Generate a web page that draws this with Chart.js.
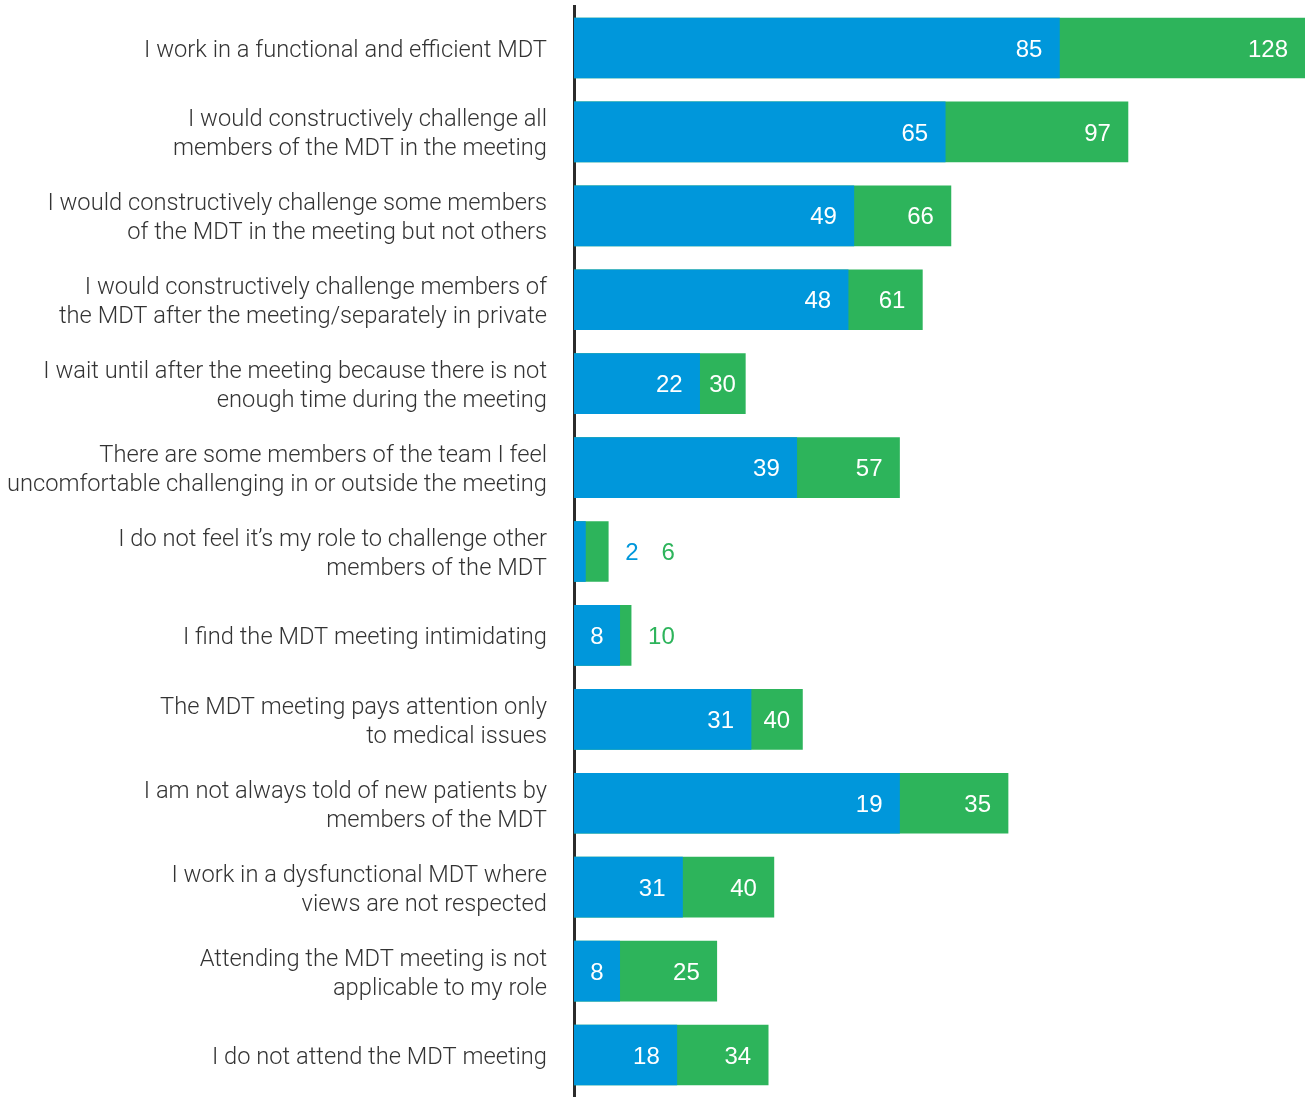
<!DOCTYPE html>
<html>
<head>
<meta charset="utf-8">
<script src="https://cdn.jsdelivr.net/npm/chart.js@4.4.1/dist/chart.umd.min.js"></script>
<style>
  html, body { margin: 0; padding: 0; background: #fff; }
  #wrap { width: 1308px; height: 1097px; position: relative; }
</style>
</head>
<body>
<div id="wrap"><canvas id="mdtChart"></canvas></div>
<script>
const categories = [
    ['I work in a functional and efficient MDT'],
    ['I would constructively challenge all', 'members of the MDT in the meeting'],
    ['I would constructively challenge some members', 'of the MDT in the meeting but not others'],
    ['I would constructively challenge members of', 'the MDT after the meeting/separately in private'],
    ['I wait until after the meeting because there is not', 'enough time during the meeting'],
    ['There are some members of the team I feel', 'uncomfortable challenging in or outside the meeting'],
    ['I do not feel it\u2019s my role to challenge other', 'members of the MDT'],
    ['I find the MDT meeting intimidating'],
    ['The MDT meeting pays attention only', 'to medical issues'],
    ['I am not always told of new patients by', 'members of the MDT'],
    ['I work in a dysfunctional MDT where', 'views are not respected'],
    ['Attending the MDT meeting is not', 'applicable to my role'],
    ['I do not attend the MDT meeting']
];

// bar lengths as drawn
const blueBars = [85, 65, 49, 48, 22, 39, 2, 8, 31, 57, 19, 8, 18];
const greenBars = [128, 97, 66, 61, 30, 57, 6, 10, 40, 76, 35, 25, 34];

// numbers printed on the bars
const blueLabels = ['85', '65', '49', '48', '22', '39', '2', '8', '31', '19', '31', '8', '18'];
const greenLabels = ['128', '97', '66', '61', '30', '57', '6', '10', '40', '35', '40', '25', '34'];

const BLUE = '#0097db';
const GREEN = '#2db45b';

const valueLabels = {
    id: 'valueLabels',
    afterDatasetsDraw(chart) {
        const ctx = chart.ctx;
        const blueMeta = chart.getDatasetMeta(0);
        const greenMeta = chart.getDatasetMeta(1);
        const pad = 17;
        ctx.save();
        ctx.font = '400 24px "Liberation Sans", Arial, sans-serif';
        ctx.textBaseline = 'middle';
        blueMeta.data.forEach((bar, i) => {
            const green = greenMeta.data[i];
            const x0 = bar.base;
            const xb = bar.x;
            const xg = green.x;
            const y = bar.y + 2;
            let cursor = xg + pad;
            const place = (text, left, right, color) => {
                const w = ctx.measureText(text).width;
                const seg = right - left;
                if (seg >= w + 2 * pad) {
                    ctx.fillStyle = '#fff';
                    ctx.textAlign = 'right';
                    ctx.fillText(text, right - pad, y);
                } else if (seg >= w + 16) {
                    ctx.fillStyle = '#fff';
                    ctx.textAlign = 'center';
                    ctx.fillText(text, (left + right) / 2, y);
                } else {
                    // too narrow: print it after the bar in its own colour
                    ctx.fillStyle = color;
                    ctx.textAlign = 'left';
                    ctx.fillText(text, cursor, y);
                    cursor += w + 23;
                }
            };
            place(blueLabels[i], x0, xb, BLUE);
            place(greenLabels[i], xb, xg, GREEN);
        });
        ctx.restore();
    }
};

new Chart(document.getElementById('mdtChart'), {
    type: 'bar',
    data: {
        labels: categories,
        datasets: [{
            data: blueBars,
            backgroundColor: BLUE,
            grouped: false,
            barThickness: 60
        }, {
            data: greenBars,
            backgroundColor: GREEN,
            grouped: false,
            barThickness: 60
        }]
    },
    options: {
        indexAxis: 'y',
        responsive: true,
        maintainAspectRatio: false,
        animation: false,
        layout: { padding: { top: 6, right: 3, left: 0, bottom: 0 } },
        plugins: { legend: { display: false }, tooltip: { enabled: false } },
        scales: {
            x: { display: false, min: 0, max: 128 },
            y: {
                grid: { display: false, drawTicks: false },
                border: { display: true, color: '#2b2b2b', width: 3 },
                ticks: {
                    color: '#333',
                    padding: 27,
                    labelOffset: 3,
                    font: { family: 'Roboto', size: 23.7, weight: 300, lineHeight: 1.224 }
                },
                afterFit(scale) {
                    scale.width = 574;
                    scale.paddingTop = 0;
                    scale.paddingBottom = 0;
                }
            }
        }
    },
    plugins: [valueLabels]
});
</script>
</body>
</html>
